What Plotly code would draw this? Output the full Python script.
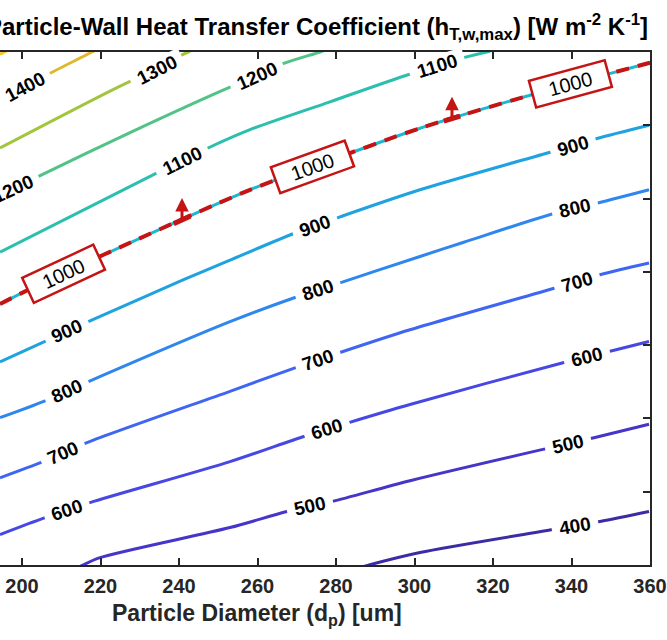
import numpy as np
import plotly.graph_objects as go

# ---------------- data ----------------
x_ticks = [200, 220, 240, 260, 280, 300, 320, 340, 360]
y_ticks = [0, 1, 2, 3, 4, 5, 6, 7]
x_range = [194.39, 360.0]
y_range = [0.0, 7.0]

levels = [400, 500, 600, 700, 800, 900, 1000, 1100, 1200, 1300, 1400, 1500]

c400_x = [283.57, 288.41, 301.40, 335.29, 347.26, 359.75]
c400_y = [-0.075, 0.0, 0.17, 0.484, 0.593, 0.729]

c500_x = [212.23, 215.54, 219.87, 252.99, 267.52, 278.98, 298.85, 334.52, 345.99, 359.75]
c500_y = [-0.09, 0.0, 0.10, 0.511, 0.729, 0.866, 1.15, 1.60, 1.74, 1.92]

c600_x = [194.39, 205.86, 217.32, 252.99, 271.59, 283.06, 298.85, 337.83, 349.30, 359.75]
c600_y = [0.416, 0.647, 0.852, 1.41, 1.75, 1.94, 2.19, 2.76, 2.91, 3.05]

c700_x = [194.39, 205.35, 216.56, 252.99, 269.55, 281.02, 298.85, 335.80, 347.26, 359.75]
c700_y = [1.19, 1.41, 1.67, 2.37, 2.69, 2.90, 3.21, 3.78, 3.96, 4.12]

c800_x = [194.39, 205.86, 216.82, 252.99, 269.55, 281.02, 301.40, 312.36, 336.31, 346.75, 359.75]
c800_y = [2.01, 2.24, 2.50, 3.32, 3.65, 3.85, 4.21, 4.40, 4.81, 4.94, 5.12]

c900_x = [194.39, 205.86, 217.32, 241.02, 252.99, 269.55, 281.02, 301.40, 336.31, 346.50, 359.75]
c900_y = [2.77, 3.05, 3.33, 3.89, 4.16, 4.53, 4.75, 5.12, 5.66, 5.82, 6.00]

c1000_x = [194.39, 199.49, 220.64, 258.09, 273.89, 301.40, 329.43, 339.62, 359.75, 362.5]
c1000_y = [3.56, 3.70, 4.23, 5.12, 5.43, 5.96, 6.41, 6.56, 6.85, 6.89]

c1100_x = [194.39, 234.39, 247.39, 258.09, 278.47, 298.34, 312.36, 319.24]
c1100_y = [4.27, 5.35, 5.69, 5.94, 6.32, 6.69, 6.92, 7.01]

c1200_x = [194.39, 204.08, 227.52, 252.99, 259.87, 266.50, 275.92, 278.47]
c1200_y = [5.04, 5.30, 5.90, 6.52, 6.67, 6.84, 7.00, 7.05]

c1300_x = [194.39, 227.52, 234.39, 240.76, 242.80]
c1300_y = [5.69, 6.60, 6.75, 6.96, 7.01]

c1400_x = [194.39, 200.76, 207.13, 217.83, 219.87]
c1400_y = [6.35, 6.52, 6.71, 7.00, 7.06]

c1500_x = [194.39, 196.94]
c1500_y = [6.97, 7.04]

# contour label x-positions (data units) for each level
label_x = {
    400: [340.89],
    500: [273.38, 339.11],
    600: [211.46, 277.71, 343.95],
    700: [210.45, 275.41, 341.40],
    800: [211.46, 275.41, 340.89],
    900: [211.46, 274.65, 340.38],
    1100: [240.76, 305.73],
    1200: [197.71, 259.87],
    1300: [234.39],
    1400: [200.76],
}
limit_level = 1000
limit_label_x = [210.45, 273.89, 339.62]
limit_arrow_x = [240.76, 309.55]

# ---------------- styling ----------------
FONT = "Liberation Sans, Arial, Helvetica, sans-serif"
W, H = 667, 640
ML, MR, MT, MB = 0, 17, 52, 75
PW = W - ML - MR
PH = H - MT - MB

colors = {
    400: "#3b2ca6", 500: "#4536c9", 600: "#4747e3", 700: "#3e66f2",
    800: "#2f86ee", 900: "#1ea2e0", 1000: "#1cb8d2", 1100: "#2bbfae",
    1200: "#52c387", 1300: "#a3c43d", 1400: "#e1b82b", 1500: "#f6c724",
}
RED = "#c41414"

lines = {
    400: (c400_x, c400_y), 500: (c500_x, c500_y), 600: (c600_x, c600_y),
    700: (c700_x, c700_y), 800: (c800_x, c800_y), 900: (c900_x, c900_y),
    1000: (c1000_x, c1000_y), 1100: (c1100_x, c1100_y), 1200: (c1200_x, c1200_y),
    1300: (c1300_x, c1300_y), 1400: (c1400_x, c1400_y), 1500: (c1500_x, c1500_y),
}

ppx = PW / (x_range[1] - x_range[0])   # pixels per x unit
ppy = PH / (y_range[1] - y_range[0])   # pixels per y unit


def on_line(level, x):
    lx, ly = lines[level]
    return float(np.interp(x, lx, ly))


def screen_angle(level, x, dx=4.0):
    y0 = on_line(level, x - dx)
    y1 = on_line(level, x + dx)
    return -np.degrees(np.arctan2((y1 - y0) * ppy, 2 * dx * ppx))


fig = go.Figure()

for lv in levels:
    lx, ly = lines[lv]
    fig.add_trace(go.Scatter(x=lx, y=ly, mode="lines",
                             line=dict(color=colors[lv], width=3, shape="spline", smoothing=0.8),
                             hoverinfo="skip", showlegend=False))

# red dashed limit line over the 1000 contour
fig.add_trace(go.Scatter(x=c1000_x, y=c1000_y, mode="lines",
                         line=dict(color=RED, width=4, dash="13px,9px", shape="spline", smoothing=0.8),
                         hoverinfo="skip", showlegend=False))

# short base bars of the direction arrows
for ax_ in limit_arrow_x:
    bx = [ax_ - 2.1, ax_ + 2.1]
    by = [on_line(limit_level, b) for b in bx]
    fig.add_trace(go.Scatter(x=bx, y=by, mode="lines",
                             line=dict(color=RED, width=5),
                             hoverinfo="skip", showlegend=False))

annotations = []
for lv, xs in label_x.items():
    for lx in xs:
        txt = str(lv)
        annotations.append(dict(
            x=lx, y=on_line(lv, lx), xref="x", yref="y", text=txt,
            textangle=screen_angle(lv, lx), showarrow=False,
            font=dict(family=FONT, size=19, color="black", weight="bold"),
            bgcolor="white", width=len(txt) * 10.6 + 14, height=20,
            borderpad=0, xanchor="center", yanchor="middle"))

for lx in limit_label_x:
    annotations.append(dict(
        x=lx, y=on_line(limit_level, lx), xref="x", yref="y", text=str(limit_level),
        textangle=screen_angle(limit_level, lx), showarrow=False,
        font=dict(family=FONT, size=20, color="black"),
        bgcolor="white", bordercolor=RED, borderwidth=2.5, borderpad=2,
        width=72, height=21, xanchor="center", yanchor="middle"))

arrow_len = 22 / ppy
for ax_ in limit_arrow_x:
    by = on_line(limit_level, ax_)
    annotations.append(dict(
        x=ax_, y=by + arrow_len, ax=ax_, ay=by, xref="x", yref="y",
        axref="x", ayref="y", text="", showarrow=True,
        arrowhead=2, arrowsize=0.9, arrowwidth=3, arrowcolor=RED))

# title and x-axis title
annotations.append(dict(
    x=317 / PW, y=(PH - (27 - MT)) / PH, xref="paper", yref="paper",
    text="Particle-Wall Heat Transfer Coefficient (h<sub>T,w,max</sub>) [W m<sup>-2</sup> K<sup>-1</sup>]",
    showarrow=False, xanchor="center", yanchor="middle",
    font=dict(family=FONT, size=24, color="black", weight="bold")))
annotations.append(dict(
    x=257 / PW, y=-(614 - MT - PH) / PH, xref="paper", yref="paper",
    text="Particle Diameter (d<sub>p</sub>) [um]",
    showarrow=False, xanchor="center", yanchor="middle",
    font=dict(family=FONT, size=23, color="#262626", weight="bold")))

fig.update_layout(
    width=W, height=H, margin=dict(l=ML, r=MR, t=MT, b=MB),
    paper_bgcolor="white", plot_bgcolor="white",
    annotations=annotations, showlegend=False,
    xaxis=dict(range=x_range, tickvals=x_ticks, ticktext=[str(v) for v in x_ticks],
               ticks="inside", ticklen=7, tickwidth=2, tickcolor="#262626",
               showline=True, linewidth=2, linecolor="#262626", mirror="ticks",
               showgrid=False, zeroline=False, automargin=False, ticklabelstandoff=2,
               tickfont=dict(family=FONT, size=20, color="#262626", weight="bold")),
    yaxis=dict(range=y_range, tickvals=y_ticks, side="right",
               ticks="inside", ticklen=7, tickwidth=2, tickcolor="#262626",
               showline=True, linewidth=2, linecolor="#262626", mirror=False,
               showticklabels=False, showgrid=False, zeroline=False, automargin=False),
)

fig.write_html("out.html")
